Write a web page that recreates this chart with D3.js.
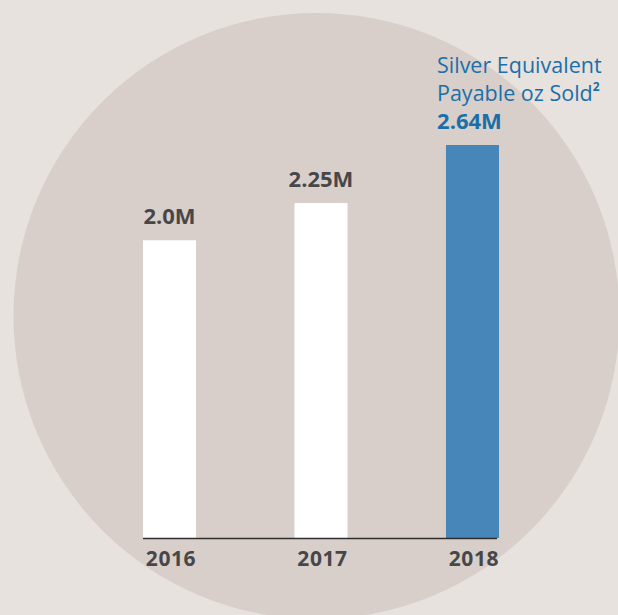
<!DOCTYPE html>
<html>
<head>
<meta charset="utf-8">
<script src="https://cdn.jsdelivr.net/npm/d3@7"></script>
<style>
  html, body { margin: 0; padding: 0; background: #e7e2de; }
  svg { display: block; }
</style>
</head>
<body>
<div id="chart"></div>
<script>
// Silver equivalent payable ounces sold, millions
const years = ["2016", "2017", "2018"];
const values = [2.0, 2.25, 2.64];
const valueLabels = ["2.0M", "2.25M", "2.64M"];
const titleLines = ["Silver Equivalent", "Payable oz Sold"];

const W = 618, H = 615;
const baseY = 538;

const svg = d3.select("#chart").append("svg")
  .attr("width", W).attr("height", H);

svg.append("rect").attr("width", W).attr("height", H).attr("fill", "#e7e2de");

// backdrop disc
svg.append("circle")
  .attr("cx", 316.5).attr("cy", 316).attr("r", 303)
  .attr("fill", "#d8cfca");

const x = d3.scaleBand().domain(years).range([143, 499])
  .paddingInner(0.65).paddingOuter(0);
const y = d3.scaleLinear().domain([0, 2.64]).range([baseY, 145]);

const data = years.map((yr, i) => ({ year: yr, value: values[i], label: valueLabels[i], last: i === years.length - 1 }));

const font = "'Open Sans', 'Noto Sans', sans-serif";
const grey = "#474749";
const blueText = "#1b6fa8";

svg.selectAll("rect.bar").data(data).enter().append("rect")
  .attr("class", "bar")
  .attr("x", d => x(d.year))
  .attr("y", d => y(d.value))
  .attr("width", x.bandwidth())
  .attr("height", d => y(0) - y(d.value))
  .attr("fill", d => d.last ? "#4686b9" : "#ffffff");

// baseline
svg.append("line")
  .attr("x1", x.range()[0]).attr("x2", x.range()[1] - 2)
  .attr("y1", baseY + 0.5).attr("y2", baseY + 0.5)
  .attr("stroke", "#2e2e2e").attr("stroke-width", 1.5);

// value labels
svg.selectAll("text.val").data(data).enter().append("text")
  .attr("class", "val")
  .attr("x", d => x(d.year) + x.bandwidth() / 2 - (d.last ? 3 : 0))
  .attr("y", d => y(d.value) - 16)
  .attr("text-anchor", "middle")
  .attr("font-family", font).attr("font-weight", 700).attr("font-size", 22)
  .attr("fill", d => d.last ? blueText : grey)
  .text(d => d.label);

// year labels
svg.selectAll("text.year").data(data).enter().append("text")
  .attr("class", "year")
  .attr("x", d => x(d.year) + x.bandwidth() / 2 + 1.5)
  .attr("y", 566)
  .attr("text-anchor", "middle")
  .attr("font-family", font).attr("font-weight", 700).attr("font-size", 21)
  .attr("letter-spacing", 0.6)
  .attr("fill", grey)
  .text(d => d.year);

// series title above the highlighted bar
const last = data[data.length - 1];
const titleX = x(last.year) + x.bandwidth() / 2 - 35.5;
const title = svg.append("text")
  .attr("font-family", font).attr("font-size", 21.5)
  .attr("fill", blueText);
titleLines.forEach((line, i) => {
  title.append("tspan")
    .attr("x", titleX)
    .attr("y", y(last.value) - 16 - 28 * (titleLines.length - i))
    .text(line);
});
title.append("tspan")
  .attr("dy", -10).attr("dx", 0)
  .attr("font-size", 12)
  .attr("font-weight", 700)
  .text("2");
</script>
</body>
</html>
